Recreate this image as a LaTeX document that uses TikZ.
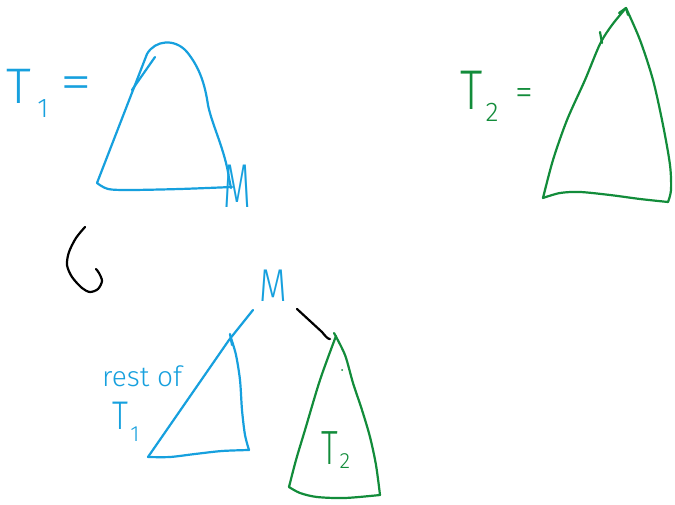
\documentclass[tikz,border=0pt]{standalone}
\usepackage{fontspec}
\newfontfamily\hand{Fira Sans Light}
\definecolor{penblue}{RGB}{22,160,222}
\definecolor{pengreen}{RGB}{18,140,58}
\tikzset{
  bluepen/.style={draw=penblue,line width=2.2pt,line cap=round,line join=round},
  greenpen/.style={draw=pengreen,line width=2.2pt,line cap=round,line join=round},
  blackpen/.style={draw=black,line width=2.2pt,line cap=round,line join=round},
  txt/.style={inner sep=0pt,anchor=center},
}
\begin{document}
\begin{tikzpicture}[x=1pt,y=-1pt]
\useasboundingbox[fill=white] (0,0) rectangle (675,505);

% ---------- T1 = ----------
\node[txt,text=penblue,font=\hand\fontsize{50}{50}\selectfont] (t1T) at (19,86) {T};
\node[txt,text=penblue,font=\hand\fontsize{27}{27}\selectfont] (t1s) at (43,109) {1};
\node[txt,text=penblue,font=\hand\fontsize{64}{64}\selectfont] (t1eq) at (76,88) {\scalebox{1}[0.8]{=}};
% T1 triangle
\draw[bluepen] (97,183) -- (147,54) .. controls (155,40) and (175,38) .. (187,52)
  .. controls (200,68) and (205,85) .. (208,105)
  .. controls (212,125) and (225,150) .. (229,178) -- (231,188);
\draw[bluepen] plot[smooth] coordinates {(97,183) (108,189) (130,190) (180,189) (232,187)};
\draw[bluepen] (132,90) -- (155,57);
\node[txt,text=penblue,font=\hand\fontsize{62}{62}\selectfont] (Mt) at (237,186) {\scalebox{0.58}[1]{M}};

% ---------- T2 = ----------
\node[txt,text=pengreen,font=\hand\fontsize{56}{56}\selectfont] (t2T) at (472,90) {\scalebox{0.8}[1]{T}};
\node[txt,text=pengreen,font=\hand\fontsize{27}{27}\selectfont] (t2s) at (492,112) {2};
\node[txt,text=pengreen,font=\hand\fontsize{36}{36}\selectfont] (t2eq) at (524,97) {=};
% T2 triangle
\draw[greenpen] plot[smooth] coordinates {(626,8) (612,25) (600,44) (585,80) (567,120) (553,160) (543,198)};
\draw[greenpen] plot[smooth] coordinates {(626,8) (640,40) (653,80) (663,125) (670,165) (671,190) (668,202)};
\draw[greenpen] plot[smooth] coordinates {(543,198) (560,193) (580,192) (610,195) (640,199) (668,202)};
\draw[greenpen] (600,32) -- (602,43);
\draw[greenpen] (619,13) -- (626,8) -- (628,15);

% ---------- hook arrow ----------
\draw[blackpen] plot[smooth] coordinates {(85,227) (76,238) (69,252) (67,265) (72,277) (82,288) (90,292) (98,289) (102,281) (99,273) (96,269)};

% ---------- result tree ----------
\node[txt,text=penblue,font=\hand\fontsize{46}{46}\selectfont] (Mb) at (273,286) {\scalebox{0.78}[1]{M}};
\coordinate (ml) at (253,310);
\coordinate (mr) at (297,309);
\coordinate (lt) at (229,340);
\coordinate (rt) at (330,339);
\coordinate (lbl) at (148,457);

% left subtree (rest of T1)
\draw[bluepen] (ml) -- (lt) -- (lbl);
\draw[bluepen] (230,334) -- (232,345);
\draw[bluepen] plot[smooth] coordinates {(231,338) (236,355) (240,380) (242,410) (245,435) (249,450)};
\draw[bluepen] plot[smooth] coordinates {(148,457) (170,457) (195,454) (222,451) (249,450)};
\node[txt,text=penblue,font=\hand\fontsize{28}{28}\selectfont,anchor=base west] (rest) at (102,386) {rest of};
\node[txt,text=penblue,font=\hand\fontsize{40}{40}\selectfont] (t1bT) at (120,416) {\scalebox{0.8}[1]{T}};
\node[txt,text=penblue,font=\hand\fontsize{22}{22}\selectfont] (t1bs) at (135,434) {1};

% right subtree (T2)
\draw[blackpen] (mr) -- (322,332) .. controls (326,337) and (328,339) .. (rt);
\draw[greenpen] plot[smooth] coordinates {(336,336) (320,380) (305,430) (296,460) (289,487)};
\draw[greenpen] plot[smooth] coordinates {(334,333) (345,355) (353,383) (362,410) (370,437) (376,465) (380,495)};
\draw[greenpen] plot[smooth] coordinates {(289,487) (300,493) (317,497) (345,498) (380,495)};
\fill[pengreen] (342,370) circle (1pt);
\node[txt,text=pengreen,font=\hand\fontsize{48}{48}\selectfont] (t2bT) at (330,448) {\scalebox{0.7}[1]{T}};
\node[txt,text=pengreen,font=\hand\fontsize{22}{22}\selectfont] (t2bs) at (345,461) {2};
\end{tikzpicture}
\end{document}
